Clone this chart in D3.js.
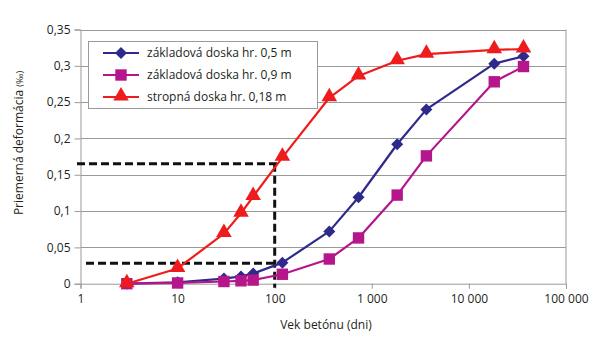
<!DOCTYPE html>
<html><head><meta charset="utf-8">
<script src="https://cdn.jsdelivr.net/npm/d3@7"></script>
<style>body{margin:0;background:#fff}svg{display:block}text{font-family:"Open Sans",sans-serif;fill:#231f20}</style>
</head><body>
<svg id="c" width="600" height="348"></svg>
<script>
const days = [3, 10, 30, 45, 60, 120, 365, 730, 1825, 3650, 18250, 36500];
const seriesNames = ["základová doska hr. 0,5 m", "základová doska hr. 0,9 m", "stropná doska hr. 0,18 m"];
const blueVals = [0, 0.002, 0.007, 0.010, 0.014, 0.029, 0.072, 0.119, 0.192, 0.240, 0.303, 0.313];
const magentaVals = [0, 0.001, 0.003, 0.004, 0.005, 0.013, 0.034, 0.063, 0.122, 0.176, 0.278, 0.299];
const redVals = [0, 0.021, 0.069, 0.097, 0.120, 0.174, 0.256, 0.286, 0.307, 0.316, 0.322, 0.323];
const xTicks = [1, 10, 100, 1000, 10000, 100000];
const xTickLabels = ["1", "10", "100", "1 000", "10 000", "100 000"];
const yTicks = [0, 0.05, 0.1, 0.15, 0.2, 0.25, 0.3, 0.35];
const yTickLabels = ["0", "0,05", "0,1", "0,15", "0,2", "0,25", "0,3", "0,35"];
const refDay = 100, refHigh = 0.165, refLow = 0.028;

const colors = ["#2e2a8c", "#b5168b", "#ee1c1c"];
const svg = d3.select("#c");
const x = d3.scaleLog().domain([1, 100000]).range([80.5, 566]);
const y = d3.scaleLinear().domain([0, 0.35]).range([283.7, 29.5]);

// gridlines
svg.append("g").selectAll("line").data(yTicks.slice(1)).join("line")
  .attr("x1", x(1)).attr("x2", x(100000)).attr("y1", d => Math.round(y(d)) + 0.5).attr("y2", d => Math.round(y(d)) + 0.5)
  .attr("stroke", "#9a9a9a").attr("stroke-width", 1);
// right border
svg.append("line").attr("x1", 566).attr("x2", 566).attr("y1", y(0.35)).attr("y2", y(0))
  .attr("stroke", "#9a9a9a");

// y axis
const yAx = svg.append("g").attr("transform", `translate(${x(1)},0)`)
  .call(d3.axisLeft(y).tickValues(yTicks).tickFormat((d, i) => yTickLabels[i]).tickSize(6).tickPadding(4));
yAx.select(".domain").attr("stroke", "#9a9a9a");
yAx.selectAll(".tick line").attr("stroke", "#9a9a9a");
yAx.selectAll("text").attr("font-size", 12).attr("font-family", "Open Sans").attr("fill", "#231f20");

// x axis
const xAx = svg.append("g").attr("transform", `translate(0,${y(0)})`)
  .call(d3.axisBottom(x).tickValues(xTicks).tickFormat((d, i) => xTickLabels[i]).tickSize(5).tickPadding(6));
xAx.select(".domain").attr("stroke", "#9a9a9a");
xAx.selectAll(".tick line").attr("stroke", "#9a9a9a");
xAx.selectAll("text").attr("font-size", 12).attr("font-family", "Open Sans").attr("fill", "#231f20");

// dashed reference lines
const dash = svg.append("g").attr("stroke", "#111").attr("stroke-width", 3).attr("stroke-dasharray", "8,4").attr("fill", "none");
dash.append("line").attr("x1", 77).attr("x2", x(refDay) + 6).attr("y1", y(refHigh)).attr("y2", y(refHigh));
dash.append("line").attr("x1", 86).attr("x2", x(refDay)).attr("y1", y(refLow)).attr("y2", y(refLow));
dash.append("line").attr("x1", x(refDay)).attr("x2", x(refDay)).attr("y1", y(refHigh)).attr("y2", y(0) + 4);

const allSeries = [blueVals, magentaVals, redVals];
const line = d3.line().x(d => x(d[0])).y(d => y(d[1]));
const symbols = [d3.symbolSquare, d3.symbolSquare, d3.symbolTriangle];
const sizes = [72, 130, 105];
const extra = ["rotate(45)", "", "translate(0,-1)"];

allSeries.forEach((vals, i) => {
  const pts = days.map((d, j) => [d, vals[j]]);
  svg.append("path").datum(pts).attr("d", line).attr("fill", "none")
    .attr("stroke", colors[i]).attr("stroke-width", 2.2).attr("stroke-linejoin", "round");
});
allSeries.forEach((vals, i) => {
  const pts = days.map((d, j) => [d, vals[j]]);
  svg.append("g").selectAll("path").data(pts).join("path")
    .attr("d", d3.symbol().type(symbols[i]).size(sizes[i]))
    .attr("transform", d => `translate(${x(d[0])},${y(d[1])}) ${extra[i]}`)
    .attr("fill", colors[i]);
});

// legend
const lg = svg.append("g");
lg.append("rect").attr("x", 88.5).attr("y", 41.5).attr("width", 229).attr("height", 67)
  .attr("fill", "#fff").attr("stroke", "#9a9a9a");
seriesNames.forEach((n, i) => {
  const ly = 53 + i * 22;
  lg.append("line").attr("x1", 103).attr("x2", 139).attr("y1", ly).attr("y2", ly)
    .attr("stroke", colors[i]).attr("stroke-width", 2.2);
  lg.append("path").attr("d", d3.symbol().type(symbols[i]).size(sizes[i]))
    .attr("transform", `translate(121,${ly}) ${extra[i]}`).attr("fill", colors[i]);
  lg.append("text").attr("x", 147).attr("y", ly + 4).attr("font-size", 12).text(n);
});

// axis titles
svg.append("text").attr("x", 326).attr("y", 329).attr("text-anchor", "middle").attr("font-size", 12).text("Vek betónu (dni)");
const yt = svg.append("text").attr("transform", "translate(23,143) rotate(-90)").attr("text-anchor", "middle").attr("font-size", 12);
yt.append("tspan").text("Priemerná deformácia ");
yt.append("tspan").attr("font-size", 9).text("(‰)");
</script>
</body></html>
